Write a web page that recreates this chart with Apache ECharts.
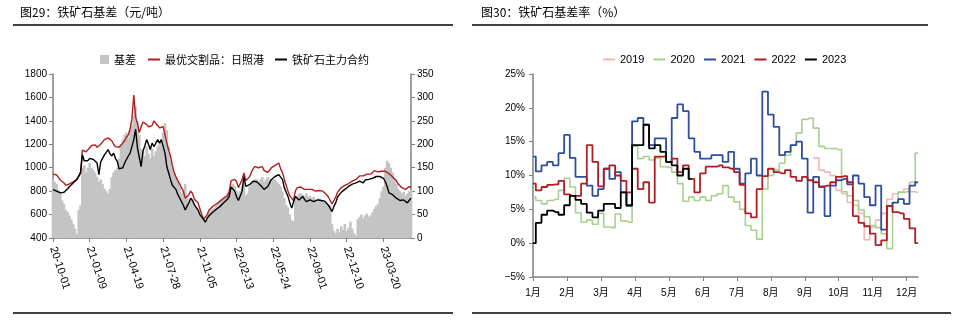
<!DOCTYPE html>
<html>
<head>
<meta charset="utf-8">
<script src="https://cdn.jsdelivr.net/npm/echarts@6/dist/echarts.min.js"></script>
<style>
  html, body { margin: 0; padding: 0; background: #fff; }
  #c { width: 964px; height: 327px; }
</style>
</head>
<body>
<div id="c"></div>
<script>
// ---- Fig.29: iron ore basis, one sample every 5 days from 2020-10-01 ----
const basisStartUTC = Date.UTC(2020, 9, 1);
const basisStepDays = 5;
const dateLabelEvery = 20; // one label per 100 days

// basis (yuan/t, right axis)
const basis = [
  125,120,115,103,95,80,72,60,55,48,
  40,30,20,8,60,70,150,155,140,150,
  160,150,145,140,130,120,125,115,105,100,
  95,105,130,140,145,150,170,200,210,220,
  225,215,230,240,260,280,250,220,190,185,
  175,195,180,170,190,175,185,195,200,210,
  225,245,230,195,165,150,140,130,120,110,
  95,100,115,90,70,85,80,70,65,60,
  50,45,38,40,50,55,60,62,65,70,
  75,78,82,85,90,95,100,110,115,110,
  100,95,100,110,117,90,95,110,117,120,
  125,125,120,125,130,120,125,130,125,120,
  125,125,120,115,110,100,85,70,65,50,
  38,36,85,90,95,95,92,90,95,88,
  90,85,88,82,80,85,82,80,78,75,
  72,70,30,15,10,20,12,25,18,30,
  15,22,35,20,10,5,40,45,50,42,
  48,52,45,48,55,62,68,72,85,100,
  110,150,165,160,150,140,125,115,105,100,
  95,98,90,95,100,102
];

// best deliverable brand, Rizhao port (yuan/t, left axis)
const spotRizhao = [
  945,942,938,915,895,880,870,850,855,862,
  870,880,885,900,915,950,1150,1140,1135,1145,
  1170,1190,1200,1195,1175,1160,1200,1220,1240,1250,
  1255,1240,1230,1200,1180,1170,1175,1190,1210,1230,
  1260,1280,1330,1420,1620,1430,1380,1300,1350,1390,
  1400,1370,1350,1355,1360,1400,1380,1360,1340,1345,
  1350,1280,1210,1150,1100,1020,960,920,890,860,
  830,800,740,730,770,800,780,730,715,700,
  650,600,560,580,600,640,655,670,680,690,
  700,715,725,740,750,760,800,890,895,900,
  880,830,840,900,955,890,900,920,960,990,
  1010,1005,1000,1005,1010,975,965,960,980,1000,
  1010,1020,1030,1040,990,960,900,850,800,760,
  740,720,800,830,840,835,820,815,810,815,
  820,815,810,800,805,805,800,800,790,770,
  750,740,690,720,750,790,810,830,840,850,
  855,865,870,885,890,900,915,930,925,930,
  940,945,930,945,960,975,975,965,960,970,
  975,970,960,950,945,920,905,890,860,845,
  830,830,815,820,840,830
];

// iron ore main futures contract (yuan/t, left axis)
const futuresMain = [
  813,805,800,795,785,770,790,800,820,840,
  855,870,880,900,915,960,1110,1060,1050,1060,
  1080,1075,1070,1055,1040,940,1050,1080,1110,1130,
  1155,1120,1100,1125,1080,1055,990,985,1000,1040,
  1070,1100,1125,1180,1240,1330,1170,1155,1010,1140,
  1185,1240,1200,1155,1210,1180,1170,1240,1210,1240,
  1230,1125,1010,955,900,850,860,813,770,740,
  725,680,640,670,700,740,720,685,660,640,
  600,585,560,535,570,590,605,620,635,645,
  655,670,685,700,715,730,755,835,830,800,
  750,720,725,800,925,840,850,855,870,885,
  900,880,870,850,840,815,830,840,870,900,
  910,925,935,940,920,900,830,790,755,700,
  655,640,755,740,725,740,755,730,710,720,
  725,715,710,720,725,710,720,725,715,700,
  680,670,625,670,700,750,770,790,800,815,
  827,840,855,860,855,870,880,885,875,870,
  895,900,900,905,910,920,925,930,925,920,
  910,880,840,785,780,770,760,740,730,720,
  710,725,715,700,720,740
];

const basisDates = basis.map((_, i) =>
  new Date(basisStartUTC + i * basisStepDays * 86400000).toISOString().slice(2, 10));

// ---- Fig.30: basis rate by calendar position, six slots per month (Dec: three) ----
const monthNames = ['1月','2月','3月','4月','5月','6月','7月','8月','9月','10月','11月','12月'];
const slotDays = [1, 6, 11, 16, 21, 26];
const daySlots = [];
monthNames.forEach((m, k) => {
  const n = k === 11 ? 3 : 6;
  for (let s = 0; s < n; s++) daySlots.push((k + 1) + '/' + slotDays[s]);
});

const rate2019 = Array(50).fill(null).concat([
  12.6,10.8,10.5,10.0,7.8,7.3,6.0,5.6,4.4,0.5,
  2.4,3.4,4.4,6.5,7.3,7.6,8.0,7.6,7.5
]);
const rate2020 = [
  6.8,6.3,5.8,6.3,6.5,7.8,
  9.6,8.3,4.5,3.1,3.4,2.8,
  4.4,2.4,2.3,4.3,3.3,3.1,
  14.3,12.5,12.8,12.3,12.6,11.3,
  11.2,10.5,8.8,6.2,6.8,6.3,
  6.8,6.3,7.0,7.3,8.5,6.8,
  6.1,5.0,2.6,1.9,0.6,8.0,
  10.0,10.8,11.8,13.0,14.5,16.3,
  18.3,18.5,17.0,14.3,14.0,14.0,
  13.8,7.6,7.0,6.3,4.9,3.9,
  2.6,2.3,1.4,-0.8,6.0,7.5,
  7.6,9.0,13.3
];
const rate2021 = [
  12.8,10.6,11.5,12.0,11.5,13.3,
  16.0,12.6,9.8,9.8,8.5,7.0,
  8.0,11.0,9.5,10.5,7.5,5.5,
  18.0,18.5,17.5,14.5,15.5,15.5,
  12.0,18.5,20.5,19.5,15.5,13.5,
  12.5,12.5,13.0,13.0,12.0,13.5,
  11.0,8.8,10.3,12.5,10.0,22.4,
  19.0,17.2,13.0,13.5,14.5,15.0,
  12.5,4.5,9.8,8.3,4.0,8.5,
  9.3,9.5,8.7,10.0,8.8,6.8,
  5.6,8.5,2.0,5.5,6.0,6.5,
  5.8,8.5,9.0
];
const rate2022 = [
  8.8,7.8,8.3,8.6,8.7,9.2,
  7.2,7.0,7.0,8.8,14.5,12.0,
  8.4,11.0,11.5,10.0,9.2,7.5,
  11.0,8.0,9.0,6.0,12.8,12.8,
  12.0,12.5,10.5,11.5,9.5,7.5,
  10.3,11.3,11.3,11.5,11.2,11.0,
  10.5,8.6,4.4,3.8,8.0,9.9,
  11.0,10.5,10.3,10.8,9.8,9.2,
  9.8,9.3,9.0,8.4,8.5,9.0,
  9.8,9.9,9.0,4.0,3.0,2.5,
  1.4,-0.3,0.4,5.5,4.6,4.4,
  3.6,2.2,0.0
];
const rate2023 = [
  0.0,3.0,4.2,4.8,4.6,4.2,
  5.6,7.0,6.4,5.8,4.5,3.8,
  4.8,5.8,5.8,5.2,7.5,5.6,
  14.5,14.5,17.5,14.0,14.5,13.5,
  12.0,11.5,10.0,11.0,9.5
];

const latin = '"Liberation Sans", Arial, "Noto Sans CJK SC", sans-serif';
const cjk = '"Noto Sans CJK SC", "Liberation Sans", sans-serif';
const axisGray = '#808080';

function axisBase(extra) {
  return Object.assign({
    axisLine: { show: true, onZero: false, lineStyle: { color: axisGray, width: 1.5 } },
    axisTick: { show: true, length: 4, lineStyle: { color: axisGray, width: 1 } },
    splitLine: { show: false }
  }, extra);
}

// weekly-updated rates drawn as stepped lines
function rateLine(name, data, color, width) {
  return {
    name, type: 'line', xAxisIndex: 1, yAxisIndex: 2, data, step: 'middle',
    symbol: 'none', showSymbol: false,
    lineStyle: { color, width }, itemStyle: { color }
  };
}

const plainNumber = v => String(v);

const chart = echarts.init(document.getElementById('c'));
chart.setOption({
  animation: false,
  backgroundColor: '#fff',
  textStyle: { fontFamily: latin },
  graphic: [
    { type: 'text', left: 20, top: 6, style: { text: '图29：铁矿石基差（元/吨）', font: '12px ' + cjk, fill: '#000' } },
    { type: 'text', left: 481, top: 6, style: { text: '图30：铁矿石基差率（%）', font: '12px ' + cjk, fill: '#000' } },
    { type: 'line', shape: { x1: 13, y1: 25, x2: 453, y2: 25 }, style: { stroke: '#000', lineWidth: 1.5 } },
    { type: 'line', shape: { x1: 472, y1: 25, x2: 928, y2: 25 }, style: { stroke: '#000', lineWidth: 1.5 } },
    { type: 'line', shape: { x1: 13, y1: 313, x2: 453, y2: 313 }, style: { stroke: '#000', lineWidth: 1.5 } },
    { type: 'line', shape: { x1: 472, y1: 313, x2: 951, y2: 313 }, style: { stroke: '#000', lineWidth: 1.5 } }
  ],
  legend: [
    { data: ['基差'], left: 95, top: 49, icon: 'rect', itemWidth: 9, itemHeight: 9,
      textStyle: { fontSize: 11, fontFamily: cjk, color: '#000' } },
    { data: ['最优交割品：日照港', '铁矿石主力合约'], left: 143, top: 49, icon: 'rect',
      itemWidth: 12, itemHeight: 2, itemGap: 11,
      textStyle: { fontSize: 11, fontFamily: cjk, color: '#000' } },
    { data: ['2019', '2020', '2021', '2022', '2023'], left: 598, top: 49, icon: 'rect',
      itemWidth: 12, itemHeight: 2, itemGap: 9,
      textStyle: { fontSize: 11, fontFamily: latin, color: '#000' } }
  ],
  grid: [
    { left: 53, top: 74, width: 358, height: 164 },
    { left: 533, top: 74, width: 385, height: 203 }
  ],
  xAxis: [
    axisBase({
      gridIndex: 0, type: 'category', data: basisDates, boundaryGap: false,
      axisTick: { show: true, interval: dateLabelEvery - 1, length: 4, lineStyle: { color: axisGray } },
      axisLabel: { interval: dateLabelEvery - 1, rotate: -72, margin: 9, fontSize: 11, color: '#000', fontFamily: latin }
    }),
    axisBase({
      gridIndex: 1, type: 'category', data: daySlots, boundaryGap: false,
      axisTick: { show: true, interval: 5, length: 4, lineStyle: { color: axisGray } },
      axisLabel: { interval: 5, margin: 11, fontSize: 10, color: '#000', fontFamily: latin,
        formatter: v => monthNames[+v.split('/')[0] - 1] }
    })
  ],
  yAxis: [
    axisBase({
      gridIndex: 0, type: 'value', min: 400, max: 1800, interval: 200,
      axisLabel: { margin: 6, fontSize: 10, color: '#000', fontFamily: latin, formatter: plainNumber }
    }),
    axisBase({
      gridIndex: 0, type: 'value', position: 'right', min: 0, max: 350, interval: 50,
      axisLabel: { margin: 6, fontSize: 10, color: '#000', fontFamily: latin, formatter: plainNumber }
    }),
    axisBase({
      gridIndex: 1, type: 'value', min: -5, max: 25, interval: 5,
      axisLabel: { margin: 8, fontSize: 10, color: '#000', fontFamily: latin,
        formatter: v => String(v).replace('-', '\u2212') + '%' }
    })
  ],
  series: [
    { name: '基差', type: 'bar', xAxisIndex: 0, yAxisIndex: 1, data: basis,
      barWidth: 2.6, itemStyle: { color: '#c4c4c4' } },
    { name: '最优交割品：日照港', type: 'line', xAxisIndex: 0, yAxisIndex: 0, data: spotRizhao,
      symbol: 'none', showSymbol: false, lineStyle: { color: '#b01e23', width: 1.4 }, itemStyle: { color: '#b01e23' } },
    { name: '铁矿石主力合约', type: 'line', xAxisIndex: 0, yAxisIndex: 0, data: futuresMain,
      symbol: 'none', showSymbol: false, lineStyle: { color: '#000', width: 1.4 }, itemStyle: { color: '#000' } },
    rateLine('2019', rate2019, '#f2b7b7', 1.6),
    rateLine('2020', rate2020, '#a9d08e', 1.6),
    rateLine('2021', rate2021, '#2e4fa0', 1.8),
    rateLine('2022', rate2022, '#b01e23', 1.8),
    rateLine('2023', rate2023, '#000000', 1.8)
  ]
});
</script>
</body>
</html>
